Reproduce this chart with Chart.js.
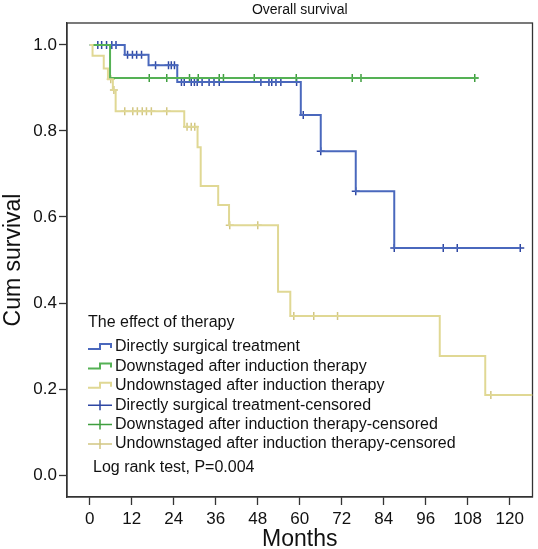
<!DOCTYPE html>
<html><head><meta charset="utf-8">
<script src="https://cdn.jsdelivr.net/npm/chart.js@4/dist/chart.umd.min.js"></script>
<style>html,body{margin:0;padding:0;background:#fff}#wrap{width:538px;height:549px}</style>
</head><body><div id="wrap"><canvas id="c" width="538" height="549"></canvas></div>
<script>
const chartTitle = 'Overall survival';
const xAxisTitle = 'Months';
const yAxisTitle = 'Cum survival';
const xTickValues = [0, 12, 24, 36, 48, 60, 72, 84, 96, 108, 120];
const yTickValues = [0, 0.2, 0.4, 0.6, 0.8, 1.0];
const legendTitle = 'The effect of therapy';
const seriesNames = ['Directly surgical treatment', 'Downstaged after induction therapy', 'Undownstaged after induction therapy'];
const censoredSuffix = '-censored';
const testNote = 'Log rank test, P=0.004';

// Kaplan-Meier steps: time of each step and survival after it
const directTimes = [0, 10, 16.8, 25, 60.3, 66, 76, 87, 123];
const directSurv  = [1.0, 0.977, 0.953, 0.914, 0.837, 0.753, 0.66, 0.528, 0.528];
const directCensor = [2.3, 3.4, 4.8, 6.3, 7.5, 10.8, 12.2, 13.4, 14.8, 18.8, 22.5, 23.3, 24.2,
  26.2, 27, 29, 29.9, 30.7, 32.1, 34.1, 35.5, 37, 48.9, 51.2, 52, 53.2, 54.6, 59.1, 61, 66, 76, 87, 101, 105, 123];

const downTimes = [0, 5.8, 111];
const downSurv  = [1.0, 0.923, 0.923];
const downCensor = [17, 22, 28.5, 31, 37, 38.2, 47, 59, 75, 77.5, 110];

const undownTimes = [0, 0.8, 4.0, 5.2, 6.6, 7.4, 27, 30.8, 31.7, 36.7, 39.8, 53.8, 57.3, 100, 113, 126.5];
const undownSurv  = [1.0, 0.975, 0.945, 0.92, 0.895, 0.846, 0.81, 0.762, 0.672, 0.628, 0.581, 0.426, 0.37, 0.277, 0.186, 0.186];
const undownCensor = [6.0, 6.9, 10, 12.3, 13.6, 15, 16.2, 17.6, 22, 27.8, 29, 30, 40, 48, 58.3, 64, 70.8, 114.6];

const lineColors = ['#4a68bd', '#55b155', '#e0d894'];
const markColors = ['#2e47a3', '#3f9e3f', '#d2c682'];
const FONT = "'Liberation Sans', Arial, Helvetica, sans-serif";

function stepPoints(times, surv) { return times.map((t, i) => ({ x: t, y: surv[i] })); }
function censorPoints(times, surv, cens) {
  return cens.map(c => {
    let v = surv[0];
    for (let i = 0; i < times.length; i++) { if (times[i] <= c) v = surv[i]; }
    return { x: c, y: v };
  });
}
const curves = [
  [directTimes, directSurv, directCensor],
  [downTimes, downSurv, downCensor],
  [undownTimes, undownSurv, undownCensor]
];
const datasets = [];
// draw order: yellow, green, blue (blue on top)
[2, 1, 0].forEach(k => {
  const [t, s] = curves[k];
  datasets.push({ label: seriesNames[k], data: stepPoints(t, s), showLine: true, stepped: true,
    borderColor: lineColors[k], borderWidth: 2, pointRadius: 0, fill: false });
});
[2, 1, 0].forEach(k => {
  const [t, s, c] = curves[k];
  datasets.push({ label: seriesNames[k] + censoredSuffix, data: censorPoints(t, s, c), showLine: false,
    pointStyle: 'cross', pointRadius: 4, pointBorderWidth: 1.5, borderColor: markColors[k], backgroundColor: markColors[k] });
});

const framePlugin = {
  id: 'frame',
  beforeDatasetsDraw(chart) {
    const { ctx, chartArea: a } = chart;
    ctx.save();
    ctx.strokeStyle = '#333'; ctx.lineWidth = 1.3;
    ctx.strokeRect(a.left, a.top, a.right - a.left, a.bottom - a.top);
    ctx.restore();
  },
  afterDraw(chart) {
    const { ctx, chartArea: a } = chart;
    ctx.save();
    ctx.fillStyle = '#111';
    ctx.textBaseline = 'middle';
    ctx.textAlign = 'center';
    ctx.font = '14px ' + FONT;
    ctx.fillText(chartTitle, (a.left + a.right) / 2, 10);
    ctx.font = '16px ' + FONT;
    ctx.textAlign = 'left';
    const lx = a.left + 21;
    ctx.fillText(legendTitle, lx, 323);
    const names = seriesNames.concat(seriesNames.map(n => n + censoredSuffix));
    names.forEach((n, i) => {
      const y = 347 + i * 19.4;
      const k = i % 3;
      ctx.fillStyle = '#111';
      ctx.fillText(n, lx + 27, y);
      if (i < 3) {
        ctx.strokeStyle = lineColors[k]; ctx.lineWidth = 2;
        ctx.beginPath();
        ctx.moveTo(lx, y + 2); ctx.lineTo(lx + 12, y + 2); ctx.lineTo(lx + 12, y - 3);
        ctx.lineTo(lx + 23, y - 3); ctx.lineTo(lx + 23, y + 1);
        ctx.stroke();
      } else {
        ctx.strokeStyle = markColors[k]; ctx.lineWidth = 1.5;
        ctx.beginPath();
        ctx.moveTo(lx, y); ctx.lineTo(lx + 24, y);
        ctx.moveTo(lx + 12, y - 5); ctx.lineTo(lx + 12, y + 5);
        ctx.stroke();
      }
    });
    ctx.fillStyle = '#111';
    ctx.fillText(testNote, lx + 5, 468);
    ctx.restore();
  }
};

new Chart(document.getElementById('c'), {
  type: 'scatter',
  data: { datasets },
  options: {
    responsive: false, animation: false, devicePixelRatio: 1,
    layout: { padding: { top: 23, right: 3, left: 0, bottom: 0 } },
    plugins: { legend: { display: false }, title: { display: false }, tooltip: { enabled: false } },
    scales: {
      x: {
        type: 'linear', min: -6.5, max: 126.5,
        afterBuildTicks: s => { s.ticks = xTickValues.map(v => ({ value: v })); },
        afterFit: s => { s.height = 52; },
        ticks: { font: { size: 17, family: FONT }, color: '#111', padding: 4, maxRotation: 0, autoSkip: false, callback: v => String(v) },
        grid: { drawOnChartArea: false, drawTicks: true, tickLength: 8, tickColor: '#333', tickWidth: 1.3 },
        border: { display: true, color: '#333', width: 1.3 },
        title: { display: true, text: xAxisTitle, font: { size: 23, family: FONT, lineHeight: 0.8 }, color: '#111', padding: 0 }
      },
      y: {
        type: 'linear', min: -0.051, max: 1.051,
        afterBuildTicks: s => { s.ticks = yTickValues.map(v => ({ value: v })); },
        afterFit: s => { s.width = 67; },
        ticks: { font: { size: 17, family: FONT }, color: '#111', padding: 2, autoSkip: false, callback: v => Number(v).toFixed(1) },
        grid: { drawOnChartArea: false, drawTicks: true, tickLength: 8, tickColor: '#333', tickWidth: 1.3 },
        border: { display: true, color: '#333', width: 1.3 },
        title: { display: true, text: yAxisTitle, font: { size: 23, family: FONT, lineHeight: 1.2 }, color: '#111', padding: 0 }
      }
    }
  },
  plugins: [framePlugin]
});
</script></body></html>
